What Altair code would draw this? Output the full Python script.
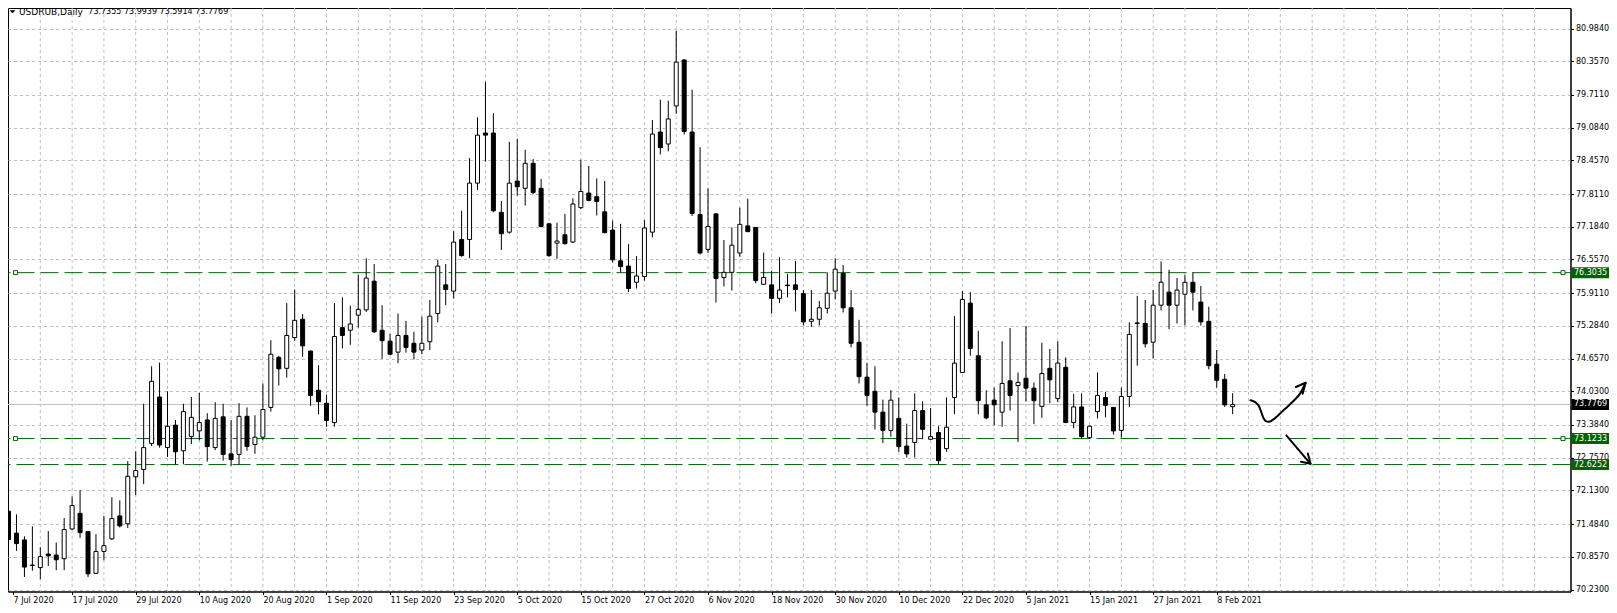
import altair as alt
import pandas as pd

# ---------------- data ----------------
date_labels = ["7 Jul 2020", "17 Jul 2020", "29 Jul 2020", "10 Aug 2020", "20 Aug 2020",
               "1 Sep 2020", "11 Sep 2020", "23 Sep 2020", "5 Oct 2020", "15 Oct 2020",
               "27 Oct 2020", "6 Nov 2020", "18 Nov 2020", "30 Nov 2020", "10 Dec 2020",
               "22 Dec 2020", "5 Jan 2021", "15 Jan 2021", "27 Jan 2021", "8 Feb 2021"]

opens = [71.73, 71.31, 71.18, 70.70, 70.65, 70.91, 70.89, 70.82, 71.39, 71.69,
         71.34, 70.54, 70.96, 71.20, 71.64, 71.49, 72.39, 72.53, 73.03, 73.92,
         72.95, 73.38, 72.89, 73.16, 73.27, 73.48, 72.95, 73.54, 72.83, 72.82,
         73.55, 73.01, 73.15, 73.72, 74.68, 74.47, 75.06, 75.41, 74.80, 74.05,
         73.80, 73.43, 75.25, 75.20, 75.49, 75.59, 76.14, 75.20, 74.99, 74.78,
         75.10, 74.95, 74.82, 74.98, 75.52, 76.07, 75.95, 76.94, 76.94, 78.02,
         78.98, 78.98, 77.46, 77.08, 78.06, 77.92, 78.40, 77.92, 77.24, 76.87,
         77.03, 76.89, 77.55, 77.83, 77.76, 77.47, 77.12, 76.53, 76.43, 76.12,
         76.23, 77.08, 79.00, 78.77, 79.50, 80.38, 79.00, 77.42, 76.75, 77.43,
         76.21, 76.31, 76.68, 77.20, 77.17, 76.08, 76.07, 75.81, 76.065, 76.07,
         75.90, 75.37, 75.41, 75.62, 75.95, 76.29, 75.63, 74.97, 74.30, 74.03,
         73.63, 73.28, 73.51, 72.98, 73.05, 73.66, 73.11, 73.24, 72.93, 73.91,
         74.39, 75.72, 74.71, 73.77, 73.86, 73.63, 74.23, 74.14, 74.28, 74.09,
         73.74, 74.47, 73.89, 74.49, 73.43, 73.73, 73.14, 73.64, 73.91, 73.72,
         73.28, 73.93, 75.33, 75.33, 74.97, 75.68, 75.93, 75.68, 75.89, 76.12,
         75.74, 75.37, 74.55, 74.26, 73.7355]

highs = [72.31, 71.67, 71.25, 71.44, 71.04, 71.35, 71.13, 71.60, 72.01, 72.14,
         71.35, 71.29, 71.64, 72.00, 71.94, 72.69, 72.88, 73.79, 74.51, 74.58,
         74.03, 73.48, 73.79, 73.92, 74.00, 73.61, 73.82, 73.79, 73.48, 73.80,
         73.72, 73.57, 74.18, 75.01, 74.71, 75.72, 75.98, 75.51, 74.81, 74.53,
         73.96, 75.72, 75.83, 75.67, 76.26, 76.58, 76.47, 75.68, 75.13, 75.52,
         75.38, 75.17, 75.46, 75.78, 76.55, 76.47, 77.10, 77.49, 78.50, 79.28,
         79.96, 79.36, 77.68, 78.81, 78.87, 78.66, 78.48, 78.10, 77.26, 77.26,
         77.43, 77.73, 78.47, 78.35, 78.11, 78.06, 77.30, 77.24, 76.85, 76.62,
         77.31, 79.23, 79.62, 79.60, 80.94, 80.40, 79.81, 78.71, 77.92, 77.44,
         76.93, 77.17, 77.55, 77.72, 77.18, 76.69, 76.34, 76.60, 76.28, 76.53,
         75.97, 75.97, 75.76, 76.31, 76.58, 76.45, 75.97, 75.40, 74.57, 74.51,
         73.87, 74.05, 73.91, 73.41, 73.99, 73.84, 73.71, 73.36, 73.91, 75.47,
         75.95, 75.93, 75.19, 74.05, 74.10, 74.99, 75.24, 74.39, 75.28, 74.20,
         74.96, 74.84, 74.99, 74.68, 73.98, 73.99, 73.37, 74.39, 74.02, 73.73,
         74.10, 75.35, 75.86, 75.78, 75.97, 76.52, 76.36, 76.20, 76.26, 76.31,
         76.05, 75.65, 74.82, 74.36, 73.9939]

lows = [71.15, 70.97, 70.47, 70.59, 70.43, 70.68, 70.60, 70.60, 71.37, 71.22,
        70.47, 70.53, 70.79, 71.18, 71.42, 71.41, 72.04, 72.25, 72.98, 72.95,
        72.77, 72.63, 72.63, 73.02, 73.09, 72.68, 72.90, 72.70, 72.60, 72.63,
        72.89, 72.83, 73.09, 73.64, 74.14, 74.29, 75.00, 74.69, 73.75, 73.59,
        73.35, 73.35, 74.85, 74.92, 75.25, 75.55, 75.15, 74.65, 74.72, 74.57,
        74.77, 74.64, 74.74, 74.82, 75.35, 75.68, 75.81, 76.61, 76.58, 77.89,
        78.43, 77.46, 76.74, 77.05, 77.78, 77.59, 77.81, 77.17, 76.61, 76.57,
        76.84, 76.87, 77.52, 77.67, 77.40, 77.06, 76.50, 76.31, 75.93, 76.00,
        76.15, 76.98, 78.57, 78.63, 79.35, 78.95, 77.39, 76.65, 76.68, 75.73,
        76.04, 75.96, 76.61, 77.08, 76.10, 76.07, 75.52, 75.72, 75.83, 75.56,
        75.29, 75.26, 75.29, 75.52, 75.79, 75.54, 74.87, 74.18, 73.75, 73.30,
        73.04, 73.16, 72.87, 72.76, 72.76, 73.11, 73.10, 72.63, 72.87, 73.59,
        74.38, 74.71, 73.59, 73.49, 73.38, 73.35, 73.66, 73.06, 73.83, 73.40,
        73.52, 73.80, 73.82, 73.42, 73.32, 73.13, 73.12, 73.51, 73.53, 73.20,
        73.14, 73.73, 74.52, 74.87, 74.66, 75.58, 75.22, 75.33, 75.29, 75.58,
        75.29, 74.45, 74.10, 73.73, 73.5914]

closes = [71.19, 71.11, 70.66, 70.69, 70.86, 70.875, 70.80, 71.38, 71.84, 71.32,
          70.53, 70.96, 71.07, 71.59, 71.45, 72.40, 72.51, 72.95, 74.22, 73.00,
          73.36, 72.87, 73.64, 73.53, 73.43, 72.97, 73.51, 72.82, 72.72, 73.55,
          72.97, 73.15, 73.68, 74.74, 74.46, 75.10, 75.39, 74.90, 73.95, 73.83,
          73.47, 75.08, 75.10, 75.32, 75.60, 76.20, 75.17, 75.00, 74.74, 75.10,
          74.87, 74.78, 74.95, 75.47, 76.43, 75.98, 76.89, 76.63, 78.02, 78.94,
          78.94, 77.49, 77.05, 78.02, 77.95, 78.40, 77.84, 77.19, 76.63, 76.91,
          76.86, 77.62, 77.86, 77.69, 77.67, 77.07, 76.55, 76.42, 76.00, 76.24,
          77.16, 78.96, 78.70, 79.25, 80.34, 79.01, 77.44, 76.68, 77.19, 76.19,
          76.31, 76.83, 77.23, 77.09, 76.15, 76.21, 75.81, 75.97, 76.055, 75.98,
          75.36, 75.41, 75.63, 75.91, 76.37, 75.63, 74.95, 74.31, 73.95, 73.63,
          73.28, 73.86, 72.97, 72.83, 73.66, 73.30, 73.16, 72.70, 73.34, 74.57,
          75.79, 74.85, 73.85, 73.52, 73.77, 74.18, 73.95, 74.20, 74.09, 73.85,
          74.37, 74.25, 74.57, 73.43, 73.73, 73.16, 73.36, 73.95, 73.76, 73.27,
          73.93, 75.12, 75.34, 74.94, 75.68, 76.12, 75.68, 75.97, 76.12, 75.93,
          75.36, 74.52, 74.24, 73.77, 73.7769]

price_ticks = [70.23, 70.857, 71.484, 72.13, 72.757, 73.384, 74.03, 74.657, 75.284,
               75.911, 76.557, 77.184, 77.811, 78.457, 79.084, 79.711, 80.357, 80.984]

levels = [76.3035, 73.1233, 72.6252]
level_selected = [True, True, False]
symbol_name = "USDRUB,Daily"

# hand-drawn arrows (bar index, price)
curve_k = [156.25, 156.88, 157.30, 157.59, 157.84, 158.13, 158.55, 159.18, 160.43, 161.68, 162.50, 163.18]
curve_p = [73.856, 73.817, 73.746, 73.637, 73.530, 73.464, 73.445, 73.497, 73.670, 73.848, 73.990, 74.193]
head1_k = [161.96, 163.18, 162.80]
head1_p = [74.112, 74.193, 73.982]
shaft2_k = [160.75, 163.80]
shaft2_p = [73.184, 72.639]
head2_k = [162.60, 163.80, 163.46]
head2_p = [72.678, 72.639, 72.839]

# ---------------- frames ----------------
X_MIN, X_MAX = 0.5625, 195.875
n = len(opens)
bars = pd.DataFrame({"k": list(range(n)), "open": opens, "high": highs,
                     "low": lows, "close": closes})
grid_df = pd.DataFrame({"k": list(range(4, 193, 4))})
lev_df = pd.DataFrame({"p": levels})
last_close = closes[-1]
last_df = pd.DataFrame({"p": [last_close]})
sq_rows = []
for p, s in zip(levels, level_selected):
    if s:
        sq_rows += [{"k": 0.875, "p": p}, {"k": 195.56, "p": p}]
sq_df = pd.DataFrame(sq_rows)
tags_green = pd.DataFrame({"p": levels, "t": [f"{v:.4f}" for v in levels]})
tag_last = pd.DataFrame({"p": [last_close], "t": [f"{last_close:.4f}"]})
curve_df = pd.DataFrame({"k": curve_k, "p": curve_p, "i": list(range(len(curve_k)))})
segs = []
for sid, (ks, ps) in enumerate([(head1_k, head1_p), (shaft2_k, shaft2_p), (head2_k, head2_p)]):
    for i, (kk, pp) in enumerate(zip(ks, ps)):
        segs.append({"sid": sid, "i": i, "k": kk, "p": pp})
seg_df = pd.DataFrame(segs)
title_df = pd.DataFrame({"name": [symbol_name],
                         "ohlc": [f"{opens[-1]:.4f} {highs[-1]:.4f} {lows[-1]:.4f} {closes[-1]:.4f}"]})

# ---------------- scales / axes ----------------
FONT = "DejaVu Sans"
GREEN = "#006400"
GRID = "#c0c0c0"
W, H = 1562.5, 583.5
xs = alt.Scale(domain=[X_MIN, X_MAX], nice=False, zero=False)
ys = alt.Scale(domain=[70.1917, 81.3770], nice=False, zero=False)
label_expr = "[" + ",".join(f"'{s}'" for s in date_labels) + "][round(datum.value/8)]"
x_tick_vals = [X_MIN] + list(range(8, 8 * len(date_labels), 8))
x_axis = alt.Axis(values=x_tick_vals, labelExpr=label_expr,
                  title=None, grid=False, tickSize=3, tickColor="black", domainColor="black",
                  labelColor="black", labelFont=FONT, labelFontSize=8, labelAlign="left",
                  labelPadding=2, labelFlush=False, labelOverlap=False, zindex=0)
y_axis = alt.Axis(orient="right", values=price_ticks, format=".4f", title=None, grid=True,
                  gridColor=GRID, gridDash=[3, 3], gridWidth=1, tickSize=3, tickColor="black",
                  domainColor="black", labelColor="black", labelFont=FONT, labelFontSize=8,
                  labelPadding=2, labelOverlap=False, labelFlush=False, zindex=0)


def X(f):
    return alt.X(f, type="quantitative", scale=xs, axis=x_axis)


def Y(f):
    return alt.Y(f, type="quantitative", scale=ys, axis=y_axis)


vgrid = alt.Chart(grid_df).mark_rule(color=GRID, strokeWidth=1, strokeDash=[3, 3]).encode(x=X("k"))
last_line = alt.Chart(last_df).mark_rule(color=GRID, strokeWidth=1).encode(y=Y("p"))
lev_lines = alt.Chart(lev_df).mark_rule(color=GREEN, strokeWidth=1, strokeDash=[18, 6]).encode(y=Y("p"))
wicks = alt.Chart(bars).mark_rule(color="black", strokeWidth=1).encode(
    x=X("k"), y=Y("low"), y2=alt.Y2("high"))
bodies = alt.Chart(bars).mark_bar(size=4, stroke="black", strokeWidth=1).encode(
    x=X("k"), y=Y("open"), y2=alt.Y2("close"),
    fill=alt.condition("datum.close >= datum.open", alt.value("white"), alt.value("black")))
squares = alt.Chart(sq_df).mark_square(size=16, filled=True, fill="white", stroke=GREEN,
                                       strokeWidth=1, opacity=1).encode(x=X("k"), y=Y("p"))
curve = alt.Chart(curve_df).mark_line(color="black", strokeWidth=2, interpolate="monotone",
                                      strokeCap="round", strokeJoin="round").encode(
    x=X("k"), y=Y("p"), order="i:Q")
heads = alt.Chart(seg_df).mark_line(color="black", strokeWidth=2, strokeCap="round",
                                    strokeJoin="round").encode(
    x=X("k"), y=Y("p"), detail="sid:N", order="i:Q")
tag_g_rect = alt.Chart(tags_green).mark_rect(color=GREEN, yOffset=-5.5, y2Offset=5.5).encode(
    x=alt.value(W + 1.0), x2=alt.value(W + 38.5), y=Y("p"), y2=alt.Y2("p"))
tag_g_text = alt.Chart(tags_green).mark_text(color="white", font=FONT, fontSize=8, align="left",
                                             baseline="middle").encode(
    x=alt.value(W + 3.5), y=Y("p"), text="t:N")
tag_l_rect = alt.Chart(tag_last).mark_rect(color="black", yOffset=-5.5, y2Offset=5.5).encode(
    x=alt.value(W + 1.0), x2=alt.value(W + 38.5), y=Y("p"), y2=alt.Y2("p"))
tag_l_text = alt.Chart(tag_last).mark_text(color="white", font=FONT, fontSize=8, align="left",
                                           baseline="middle").encode(
    x=alt.value(W + 3.5), y=Y("p"), text="t:N")
tri = alt.Chart(title_df).mark_point(shape="M-1,-0.5L1,-0.5L0,0.5Z", filled=True, color="black",
                                     size=36, opacity=1).encode(x=alt.value(4.5), y=alt.value(3.8))
title_name = alt.Chart(title_df).mark_text(color="black", font=FONT, fontSize=9, align="left",
                                           baseline="middle").encode(
    x=alt.value(11), y=alt.value(4.4), text="name:N")
title_ohlc = alt.Chart(title_df).mark_text(color="black", font=FONT, fontSize=8, align="left",
                                           baseline="middle").encode(
    x=alt.value(80.3), y=alt.value(4.4), text="ohlc:N")

chart = alt.layer(
    vgrid, last_line, lev_lines, wicks, bodies, squares, curve, heads,
    tag_g_rect, tag_g_text, tag_l_rect, tag_l_text, tri, title_name, title_ohlc
).properties(
    width=W, height=H,
    padding={"left": 0, "top": 0, "right": 38.5, "bottom": 15},
    autosize=alt.AutoSizeParams(type="none"),
    background="white",
).configure_view(stroke="black", strokeWidth=1, fill="white")

chart.save("out.html", embed_options={"renderer": "svg", "actions": False})
